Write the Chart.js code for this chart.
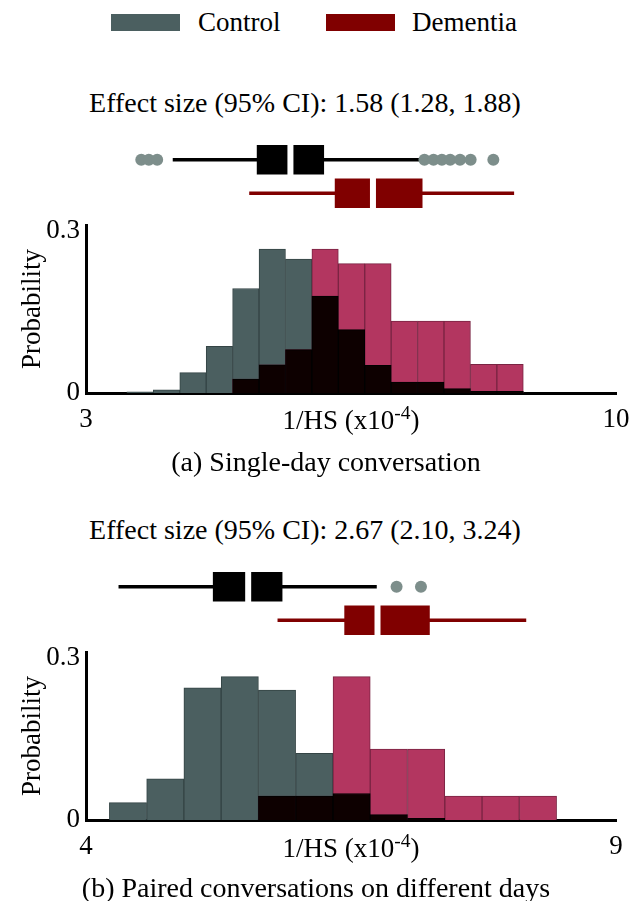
<!DOCTYPE html>
<html>
<head>
<meta charset="utf-8">
<script src="https://cdn.jsdelivr.net/npm/chart.js@4.4.1/dist/chart.umd.min.js"></script>
<style>
  body { margin: 0; background: #fff; }
  #fig { position: relative; width: 642px; height: 901px; font-family: 'Liberation Serif', 'Times New Roman', serif; color: #000; }
  .txt { position: absolute; white-space: nowrap; font-size: 27px; line-height: 30px; }
  .big { font-size: 28px; }
  .ctr { text-align: center; width: 600px; }
  .txt sup { font-size: 0.72em; line-height: 0; vertical-align: 0.5em; }
  .sw { position: absolute; width: 69px; height: 17px; }
  canvas { position: absolute; left: 0; }
</style>
</head>
<body>
<div id="fig">
  <div class="sw" style="left:111px;top:14px;background:#4b5f60"></div>
  <div class="txt" style="left:198px;top:7px">Control</div>
  <div class="sw" style="left:326px;top:14px;background:#800000"></div>
  <div class="txt" style="left:412px;top:7px">Dementia</div>

  <div class="txt big ctr" style="left:5px;top:88px">Effect size (95% CI): 1.58 (1.28, 1.88)</div>
  <canvas id="boxA" width="642" height="67" style="top:143px"></canvas>
  <canvas id="histA" width="642" height="232" style="top:203px"></canvas>
  <div class="txt ctr" style="left:51px;top:405px">1/HS (x10<sup>-4</sup>)</div>
  <div class="txt big ctr" style="left:26px;top:447px">(a) Single-day conversation</div>

  <div class="txt big ctr" style="left:5px;top:515px">Effect size (95% CI): 2.67 (2.10, 3.24)</div>
  <canvas id="boxB" width="642" height="67" style="top:570px"></canvas>
  <canvas id="histB" width="642" height="232" style="top:630px"></canvas>
  <div class="txt ctr" style="left:51px;top:833px">1/HS (x10<sup>-4</sup>)</div>
  <div class="txt big ctr" style="left:16px;top:873px">(b) Paired conversations on different days</div>
</div>

<script>
const yTicks = [0, 0.3];

// (a) single-day conversation
const xTicksA = [3, 10];
const binsA = [3.714, 4.063, 4.413, 4.762, 5.111, 5.460, 5.809, 6.158, 6.507, 6.856, 7.205, 7.554, 7.903, 8.252, 8.601];
const controlA = [0.002, 0.006, 0.0375, 0.086, 0.193, 0.266, 0.2475, 0.179, 0.117, 0.051, 0.020, 0.020, 0.008, 0.003, 0.003];
const dementiaA = [0, 0, 0, 0, 0.0255, 0.052, 0.080, 0.266, 0.239, 0.239, 0.133, 0.133, 0.133, 0.053, 0.053];
const whiskerA = [[4.15, 7.44], [5.16, 8.65]];
const quartileA = [[5.26, 6.14], [6.29, 7.44]];
const medianA = [5.70, 6.79];
const outlierA = [3.73, 3.83, 3.94, 7.47, 7.59, 7.70, 7.81, 7.94, 8.08, 8.38];

// (b) paired conversations
const xTicksB = [4, 9];
const binsB = [4.396, 4.748, 5.099, 5.451, 5.802, 6.154, 6.506, 6.857, 7.209, 7.561, 7.912, 8.264];
const controlB = [0.032, 0.076, 0.244, 0.265, 0.240, 0.123, 0.049, 0.010, 0.003, 0, 0, 0];
const dementiaB = [0, 0, 0, 0, 0.044, 0.044, 0.265, 0.131, 0.131, 0.044, 0.044, 0.044];
const whiskerB = [[4.31, 6.74], [5.81, 8.15]];
const quartileB = [[5.20, 5.85], [6.44, 7.24]];
const medianB = [5.53, 6.75];
const outlierB = [6.93, 7.16];

const serif = { family: "'Liberation Serif', 'Times New Roman', serif", size: 27 };
const boxColors = ['#000000', '#800000'];

function histChart(id, bins, control, dementia, xTicks) {
  const overlap = control.map((c, i) => Math.min(c, dementia[i]));
  const pts = arr => arr.map((v, i) => ({ x: bins[i], y: v }));
  return new Chart(document.getElementById(id), {
    type: 'bar',
    data: {
      datasets: [
        { data: pts(overlap), backgroundColor: '#0d0000', borderColor: '#000000', order: 0 },
        { data: pts(dementia), backgroundColor: '#b33660', borderColor: '#7a2443', order: 1 },
        { data: pts(control), backgroundColor: '#4b5f60', borderColor: '#344445', order: 2 }
      ]
    },
    options: {
      responsive: false,
      animation: false,
      layout: { padding: { top: 17, right: 26, left: 0, bottom: 0 } },
      datasets: { bar: { grouped: false, barPercentage: 1, categoryPercentage: 1, borderWidth: 1 } },
      plugins: { legend: { display: false }, tooltip: { enabled: false } },
      scales: {
        x: {
          type: 'linear', min: xTicks[0], max: xTicks[1], offset: false,
          grid: { display: false, drawTicks: false },
          border: { color: '#000', width: 3 },
          ticks: { font: serif, color: '#000', padding: 11, maxRotation: 0, callback: v => String(v) },
          afterBuildTicks: s => { s.ticks = xTicks.map(v => ({ value: v })); },
          afterFit: s => { s.height = 42; }
        },
        y: {
          min: 0, max: 0.31,
          grid: { display: false, drawTicks: false },
          border: { color: '#000', width: 3 },
          ticks: { font: serif, color: '#000', padding: 6, callback: v => String(v) },
          afterBuildTicks: s => { s.ticks = yTicks.map(v => ({ value: v })); },
          afterFit: s => { s.width = 86; },
          title: { display: true, text: 'Probability', font: serif, color: '#000', padding: { top: 17, bottom: 0 } }
        }
      }
    }
  });
}

// rows: control = 1, dementia = 2 (linear y, reversed)
function boxChart(id, whiskers, quartiles, medians, outliers, xTicks) {
  const rows = arr => arr.map((v, i) => ({ x: v, y: i + 1 }));
  return new Chart(document.getElementById(id), {
    type: 'bar',
    data: {
      datasets: [
        {
          type: 'scatter', order: 0,
          data: rows(medians),
          pointStyle: 'line', pointRotation: 90, pointRadius: 16,
          pointBorderWidth: 6, pointBorderColor: '#ffffff', pointBackgroundColor: '#ffffff'
        },
        { indexAxis: 'y', data: rows(quartiles), backgroundColor: boxColors, barThickness: 29, order: 1 },
        {
          type: 'scatter', order: 2,
          data: outliers.map(v => ({ x: v, y: 1 })),
          pointStyle: 'circle', pointRadius: 6, pointBorderWidth: 0,
          pointBackgroundColor: '#7d8e8b'
        },
        { indexAxis: 'y', data: rows(whiskers), backgroundColor: boxColors, barThickness: 3, order: 3 }
      ]
    },
    options: {
      responsive: false,
      animation: false,
      layout: { autoPadding: false, padding: { top: 0, right: 26, left: 86, bottom: 0 } },
      datasets: { bar: { grouped: false, borderWidth: 0 } },
      plugins: { legend: { display: false }, tooltip: { enabled: false } },
      scales: {
        x: { type: 'linear', min: xTicks[0], max: xTicks[1], offset: false, display: false },
        y: { type: 'linear', min: 0.5, max: 2.5, reverse: true, offset: false, display: false }
      }
    }
  });
}

boxChart('boxA', whiskerA, quartileA, medianA, outlierA, xTicksA);
histChart('histA', binsA, controlA, dementiaA, xTicksA);
boxChart('boxB', whiskerB, quartileB, medianB, outlierB, xTicksB);
histChart('histB', binsB, controlB, dementiaB, xTicksB);
</script>
</body>
</html>
